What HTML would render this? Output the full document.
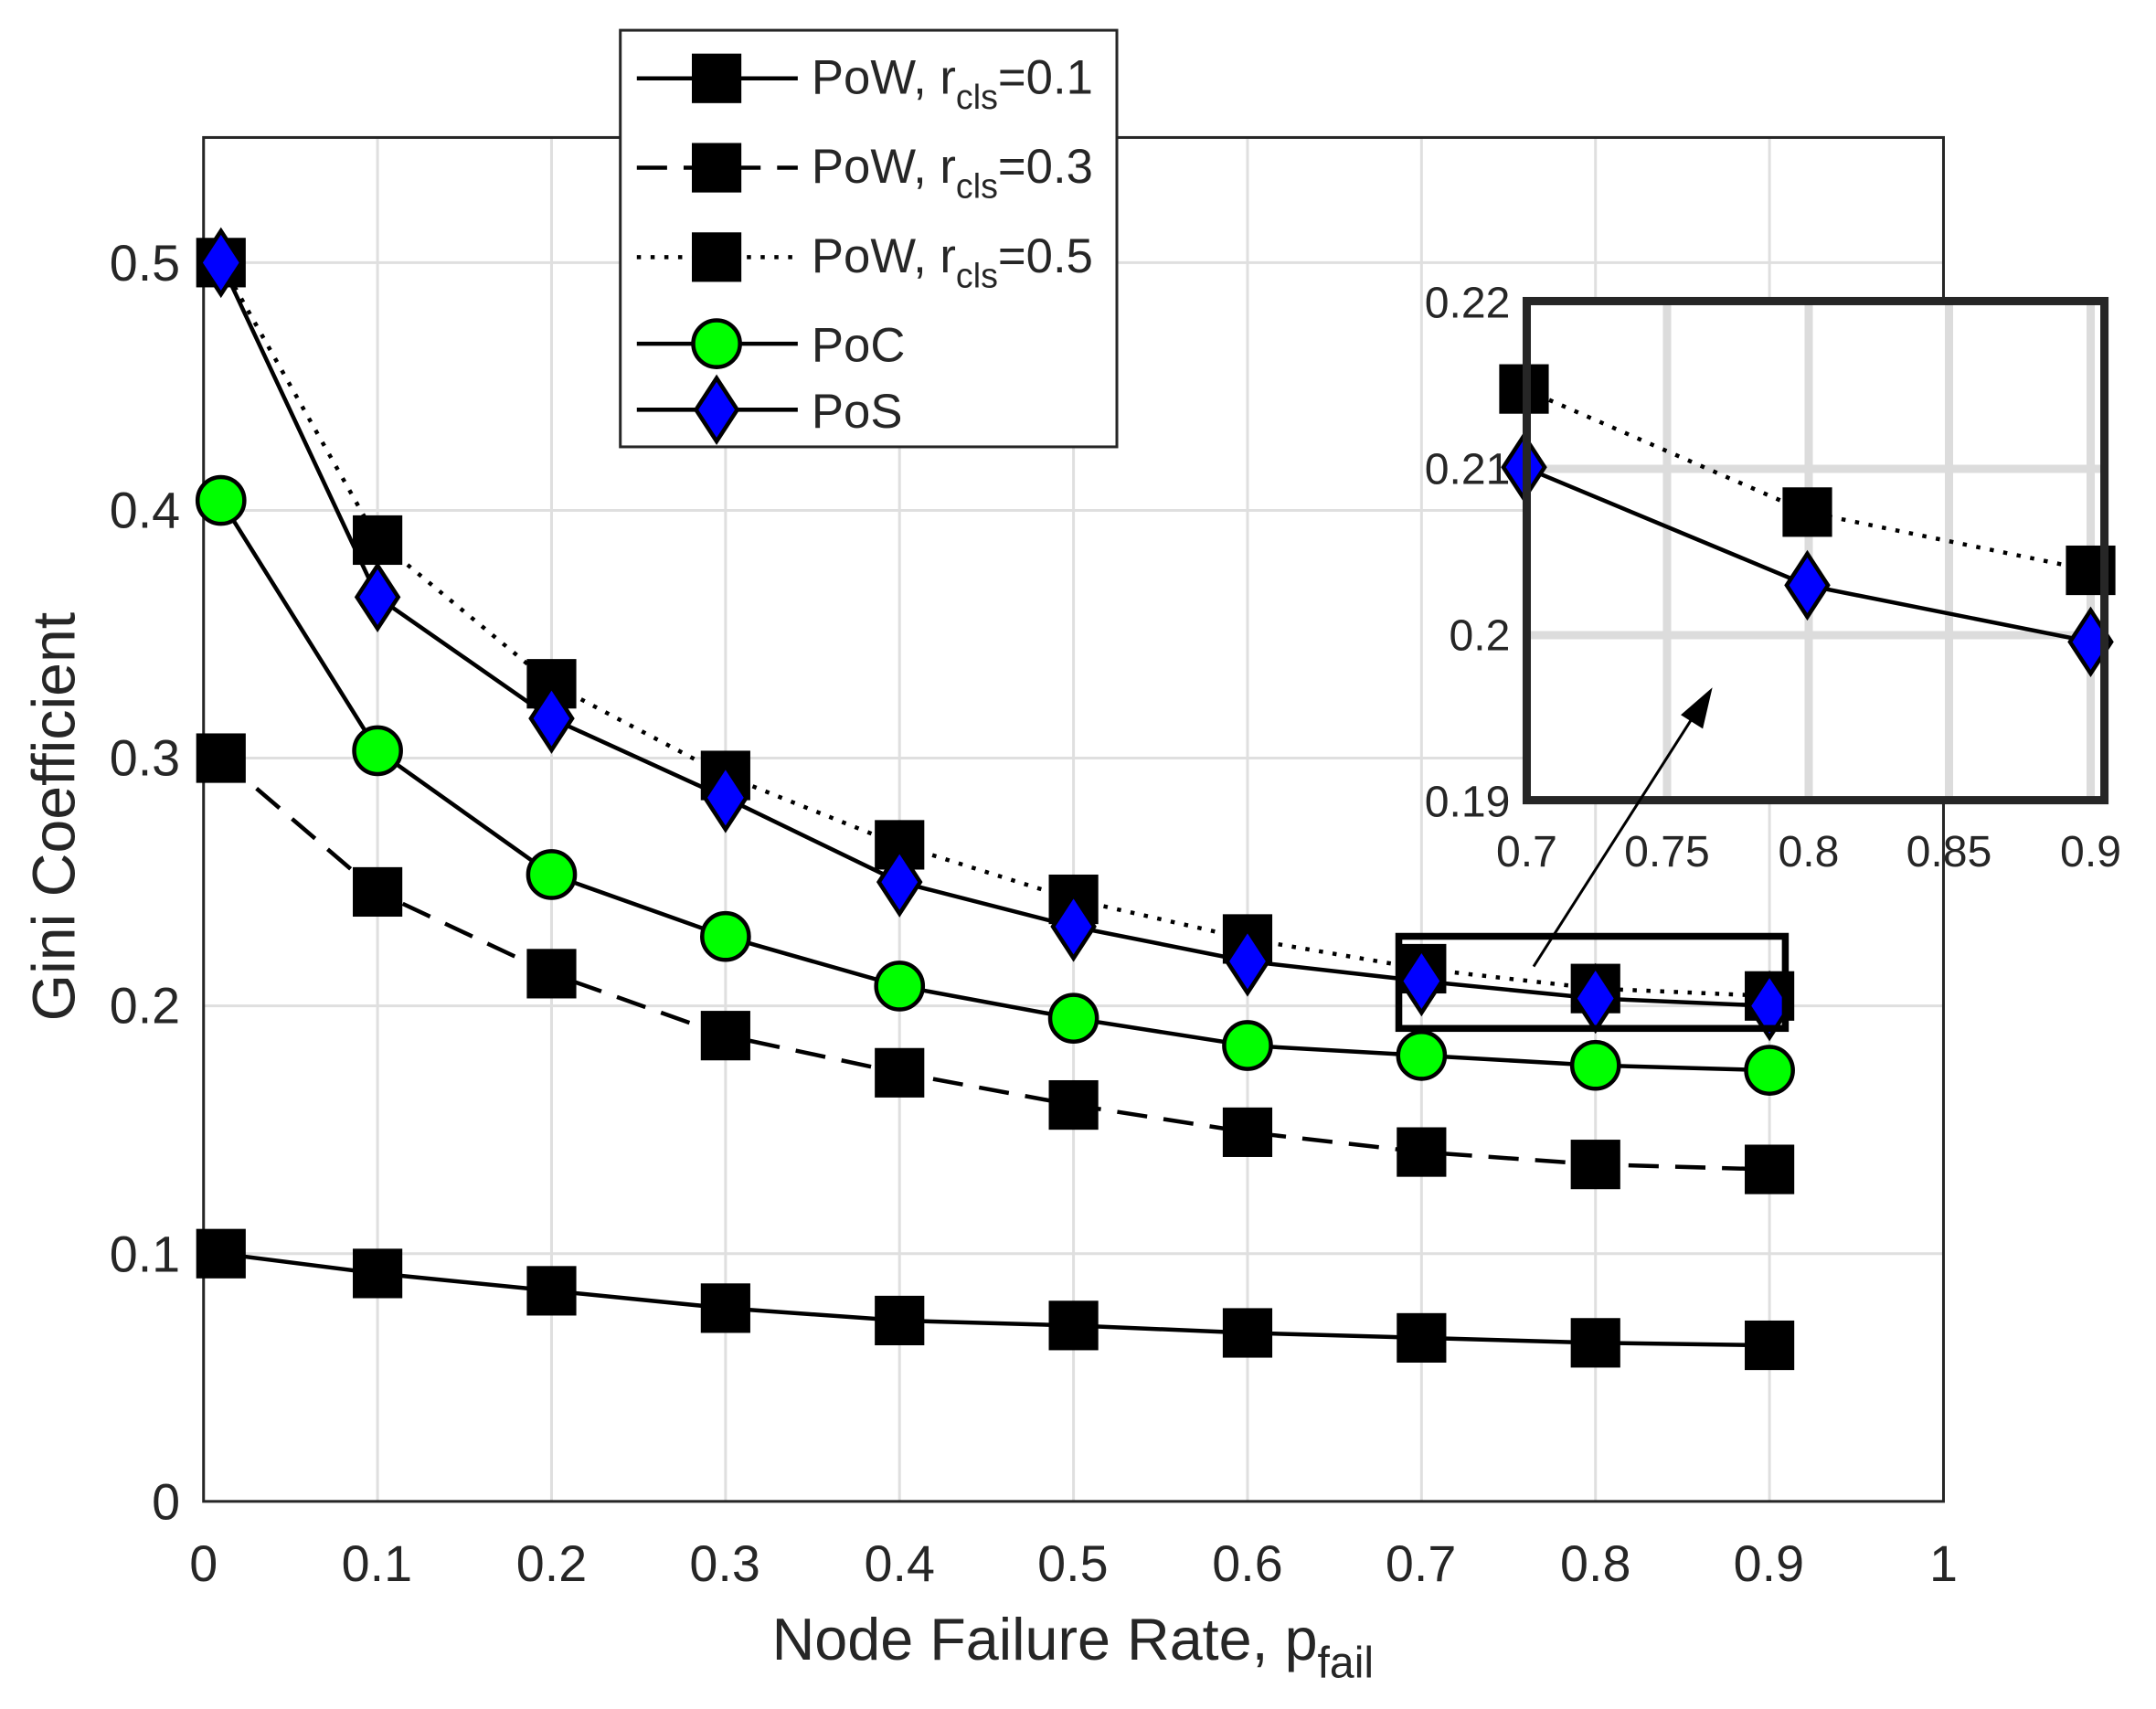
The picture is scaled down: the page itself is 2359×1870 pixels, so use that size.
<!DOCTYPE html>
<html><head><meta charset="utf-8"><style>html,body{margin:0;padding:0;background:#fff}svg{display:block}</style></head>
<body>
<svg id="s" width="2359" height="1870" viewBox="0 0 1567.5 1243" preserveAspectRatio="none" xmlns="http://www.w3.org/2000/svg" font-family="Liberation Sans, sans-serif" fill="#262626">
<rect x="0" y="0" width="1567.5" height="1243" fill="#fff"/>
<g id="grid" stroke="#dfdfdf" stroke-width="2"></g>
<rect x="148" y="100" width="1265" height="992" fill="none" stroke="#262626" stroke-width="2"/>
<g font-size="37" text-anchor="middle">
<text x="148" y="1150">0</text><text x="274" y="1150">0.1</text><text x="401" y="1150">0.2</text><text x="527" y="1150">0.3</text><text x="654" y="1150">0.4</text><text x="780" y="1150">0.5</text><text x="907" y="1150">0.6</text><text x="1033" y="1150">0.7</text><text x="1160" y="1150">0.8</text><text x="1286" y="1150">0.9</text><text x="1413" y="1150">1</text>
</g>
<g font-size="37" text-anchor="end">
<text x="131" y="1105">0</text><text x="131" y="925">0.1</text><text x="131" y="744">0.2</text><text x="131" y="564">0.3</text><text x="131" y="384">0.4</text><text x="131" y="204">0.5</text>
</g>
<text x="780" y="1207" font-size="43" text-anchor="middle">Node Failure Rate, p<tspan font-size="32" dy="13">fail</tspan></text>
<text transform="translate(54,594) rotate(-90)" font-size="44" text-anchor="middle">Gini Coefficient</text>
<g id="main"></g>
<rect x="1017" y="681" width="281" height="67" fill="none" stroke="#000" stroke-width="5"/>
<rect x="1110" y="219" width="420" height="363" fill="#fff"/>
<g id="igrid" stroke="#dcdcdc" stroke-width="6"></g>
<g id="inset"></g>
<rect x="1110" y="219" width="420" height="363" fill="none" stroke="#262626" stroke-width="6"/>
<line x1="1115" y1="703" x2="1235" y2="515" stroke="#000" stroke-width="2"/>
<polygon points="1245,500 1238,530 1222,520" fill="#000"/>
<g font-size="32" text-anchor="end">
<text x="1098" y="231">0.22</text><text x="1098" y="352">0.21</text><text x="1098" y="473">0.2</text><text x="1098" y="594">0.19</text>
</g>
<g font-size="32" text-anchor="middle">
<text x="1110" y="630">0.7</text><text x="1212" y="630">0.75</text><text x="1315" y="630">0.8</text><text x="1417" y="630">0.85</text><text x="1520" y="630">0.9</text>
</g>
<rect x="451" y="22" width="361" height="303" fill="#fff" stroke="#262626" stroke-width="2"/>
<g id="leg"></g>
<g font-size="35">
<text x="590" y="68">PoW, r<tspan font-size="25" dy="11">cls</tspan><tspan dy="-11">=0.1</tspan></text>
<text x="590" y="133">PoW, r<tspan font-size="25" dy="11">cls</tspan><tspan dy="-11">=0.3</tspan></text>
<text x="590" y="198">PoW, r<tspan font-size="25" dy="11">cls</tspan><tspan dy="-11">=0.5</tspan></text>
<text x="590" y="263">PoC</text>
<text x="590" y="311">PoS</text>
</g>
<script>
const NS="http://www.w3.org/2000/svg";
function el(p,t,a){const e=document.createElementNS(NS,t);for(const k in a)e.setAttribute(k,a[k]);p.appendChild(e);return e;}
const g=document.getElementById('grid');
for(let i=1;i<10;i++){const x=148+126.5*i;el(g,'line',{x1:x,y1:100,x2:x,y2:1092});}
for(let i=1;i<6;i++){const y=1092-180.2*i;el(g,'line',{x1:148,y1:y,x2:1413,y2:y});}
const X=[0.01,0.1,0.2,0.3,0.4,0.5,0.6,0.7,0.8,0.9];
const D={
p1:[0.1,0.092,0.085,0.078,0.073,0.071,0.068,0.066,0.064,0.063],
p3:[0.3,0.246,0.213,0.188,0.173,0.16,0.149,0.141,0.136,0.134],
p5:[0.5,0.388,0.33,0.293,0.265,0.243,0.227,0.215,0.207,0.204],
poc:[0.404,0.303,0.253,0.228,0.208,0.195,0.184,0.18,0.176,0.174],
pos:[0.5,0.365,0.316,0.284,0.25,0.232,0.218,0.21,0.203,0.2]};
function mk(p,type,x,y){
 if(type=='sq')el(p,'rect',{x:x-18,y:y-18,width:36,height:36,fill:'#000'});
 else if(type=='ci')el(p,'circle',{cx:x,cy:y,r:17,fill:'#00ff00',stroke:'#000','stroke-width':3});
 else el(p,'polygon',{points:`${x},${y-23} ${x+15},${y} ${x},${y+23} ${x-15},${y}`,fill:'#0000ff',stroke:'#000','stroke-width':3});
}
function series(p,xs,ys,fx,fy,dash,type){
 const pts=xs.map((x,i)=>fx(x)+','+fy(ys[i])).join(' ');
 el(p,'polyline',{points:pts,fill:'none',stroke:'#000','stroke-width':3,'stroke-dasharray':dash||''});
 xs.forEach((x,i)=>mk(p,type,fx(x),fy(ys[i])));
}
const m=document.getElementById('main');
const fx=x=>148+1265*x, fy=v=>1092-1802*v;
series(m,X,D.p1,fx,fy,'','sq');
series(m,X,D.p3,fx,fy,'22,12','sq');
series(m,X,D.p5,fx,fy,'3,7','sq');
series(m,X,D.poc,fx,fy,'','ci');
series(m,X,D.pos,fx,fy,'','di');
const ig=document.getElementById('igrid');
[1212,1315,1417,1520].forEach(x=>el(ig,'line',{x1:x,y1:219,x2:x,y2:582}));
[341,462].forEach(y=>el(ig,'line',{x1:1110,y1:y,x2:1530,y2:y}));
const ins=document.getElementById('inset');
const ix=x=>1108+(x-0.7)*2060, iy=v=>462-(v-0.2)*12100;
series(ins,[0.7,0.8,0.9],[0.2148,0.2074,0.2039],ix,iy,'3,7','sq');
series(ins,[0.7,0.8,0.9],[0.2101,0.203,0.1996],ix,iy,'','di');
const L=document.getElementById('leg');
[[57,'','sq'],[122,'22,12','sq'],[187,'3,7','sq'],[250,'','ci'],[298,'','di']].forEach(([y,d,t])=>{
 el(L,'line',{x1:463,y1:y,x2:580,y2:y,stroke:'#000','stroke-width':3,'stroke-dasharray':d});
 mk(L,t,521,y);
});
</script>
</svg>
</body></html>
